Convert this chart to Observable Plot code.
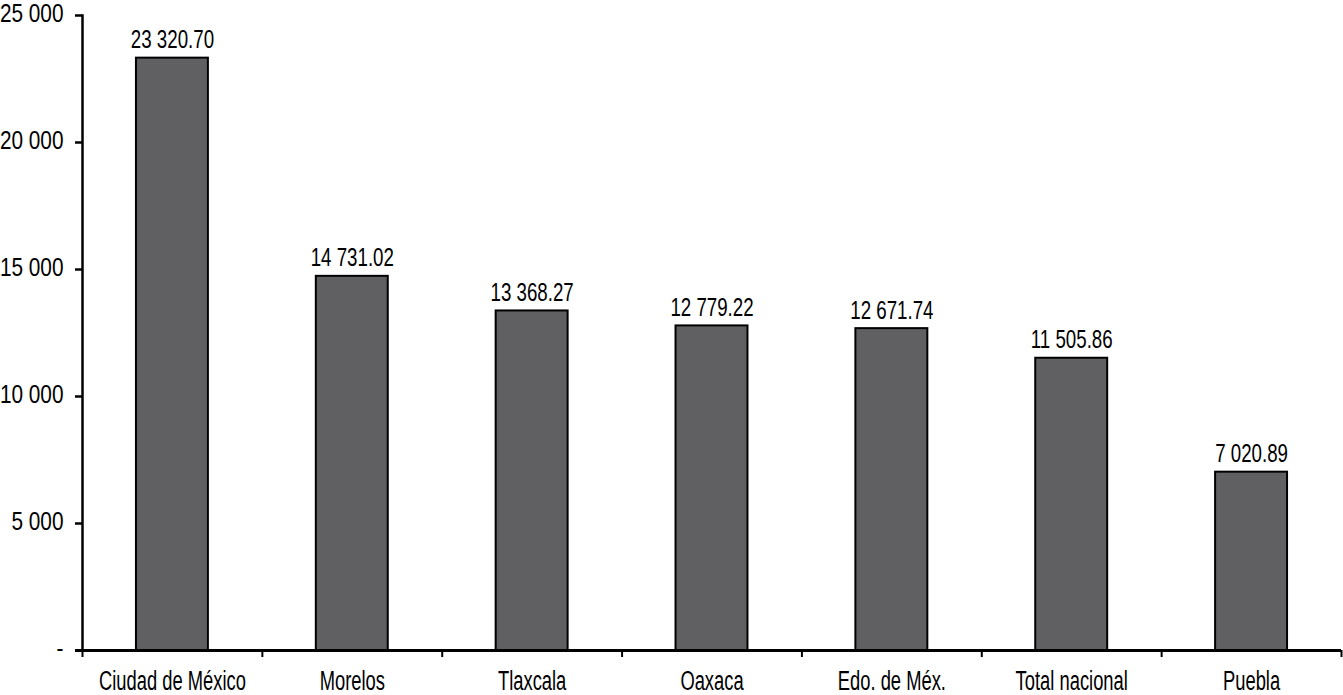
<!DOCTYPE html>
<html>
<head>
<meta charset="utf-8">
<script src="https://cdn.jsdelivr.net/npm/d3@7"></script>
<script src="https://cdn.jsdelivr.net/npm/@observablehq/plot@0.6"></script>
<style>
  html, body { margin: 0; padding: 0; background: #fff; }
  #chart svg { display: block; }
</style>
</head>
<body>
<div id="chart"></div>
<script>
const categories = ["Ciudad de México", "Morelos", "Tlaxcala", "Oaxaca", "Edo. de Méx.", "Total nacional", "Puebla"];
const values = [23320.70, 14731.02, 13368.27, 12779.22, 12671.74, 11505.86, 7020.89];
const yTicks = [0, 5000, 10000, 15000, 20000, 25000];

const data = categories.map((c, i) => ({ category: c, index: i, value: values[i] }));

const grp = (n, dec) => {
  const s = n.toFixed(dec);
  const [int, frac] = s.split(".");
  const g = int.replace(/\B(?=(\d{3})+(?!\d))/g, " ");
  return frac !== undefined ? g + "." + frac : g;
};

const font = "'Liberation Sans', Arial, sans-serif";
const pad = 0.3;

const chart = Plot.plot({
  width: 1343,
  height: 695,
  marginLeft: 82,
  marginRight: 2,
  marginTop: 15,
  marginBottom: 45,
  style: { fontFamily: font, fontSize: "26px", color: "#000", background: "#fff" },
  x: { domain: [0, categories.length] },
  y: { domain: [0, 25000] },
  marks: [
    Plot.rectY(data, {
      x1: d => d.index + pad,
      x2: d => d.index + 1 - pad,
      y: "value",
      fill: "#606062",
      stroke: "#000",
      strokeWidth: 2
    }),
    Plot.text(data, {
      x: d => d.index + 0.5,
      y: "value",
      text: d => grp(d.value, 2),
      lineAnchor: "bottom",
      dy: -10,
      fontSize: 26,
      fill: "#000"
    }),
    Plot.frame({ anchor: "left", stroke: "#000", strokeWidth: 2.5 }),
    Plot.ruleY([0], { stroke: "#000", strokeWidth: 3, insetLeft: -7 }),
    Plot.axisY({
      ticks: yTicks,
      tickSize: 7,
      tickPadding: 12,
      tickFormat: d => d === 0 ? "-" : grp(d, 0),
      strokeWidth: 2.5,
      fontSize: 26,
      label: null
    }),
    Plot.axisX({
      ticks: d3.range(categories.length + 1),
      tickSize: 7,
      tickFormat: () => "",
      strokeWidth: 2,
      label: null
    }),
    Plot.axisX({
      ticks: d3.range(categories.length).map(i => i + 0.5),
      tickSize: 0,
      tickPadding: 20,
      tickFormat: d => categories[Math.floor(d)],
      fontSize: 27,
      label: null
    })
  ]
});

// condense text horizontally to imitate the narrow typeface
function condense(root, label, s, dy) {
  root.querySelectorAll(`g[aria-label="${label}"] text`).forEach(t => {
    const x = +(t.getAttribute("x") || 0);
    const tr = t.getAttribute("transform") || "";
    t.setAttribute("transform", `${tr} translate(${x},${dy || 0}) scale(${s},1) translate(${-x},0)`);
  });
}
condense(chart, "y-axis tick label", 0.8, -2);
condense(chart, "x-axis tick label", 0.68, 0);
condense(chart, "text", 0.72, 0);

document.getElementById("chart").appendChild(chart);
</script>
</body>
</html>
